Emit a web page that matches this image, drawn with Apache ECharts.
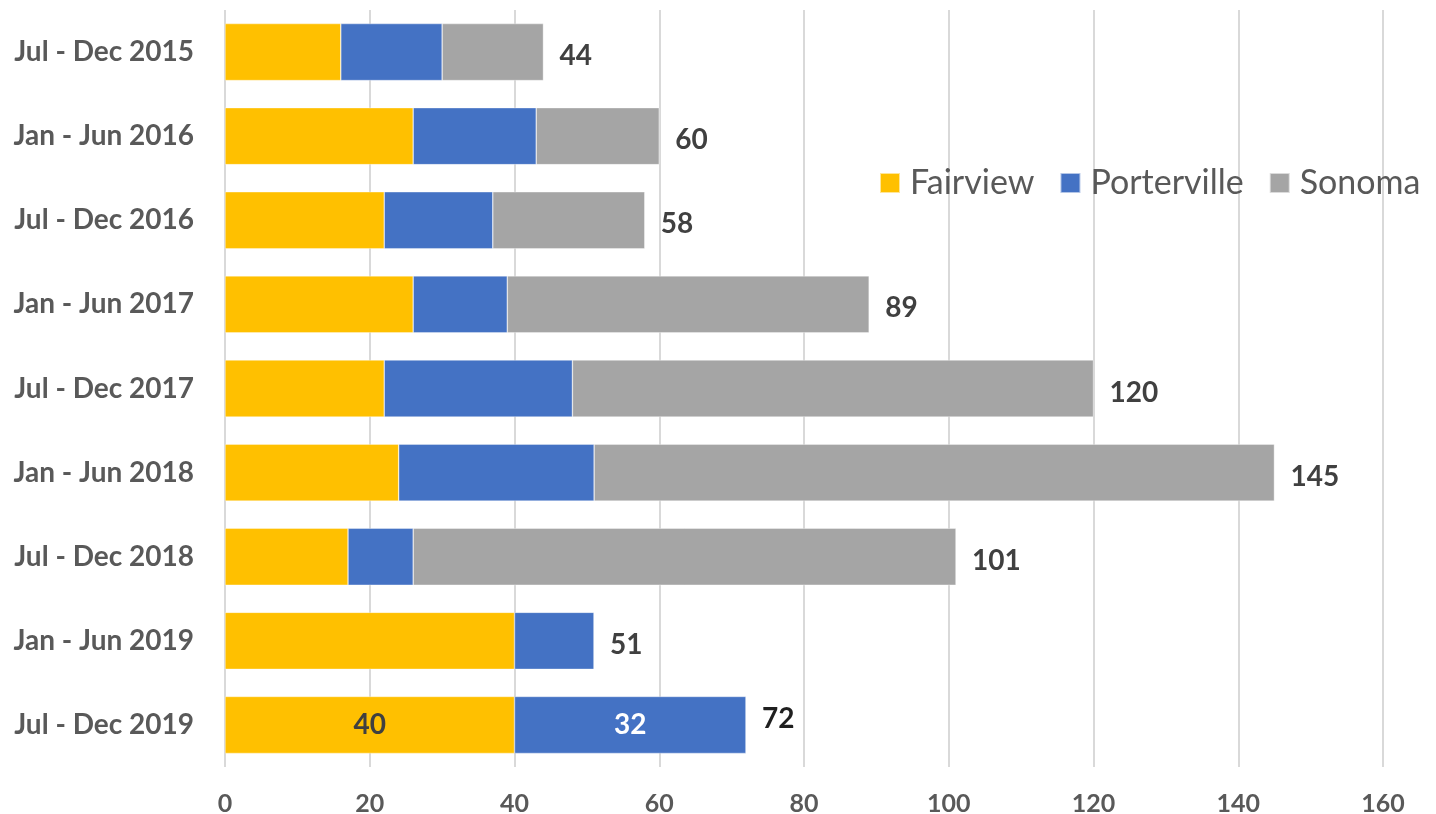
<!DOCTYPE html>
<html>
<head>
<meta charset="utf-8">
<script src="https://cdn.jsdelivr.net/npm/echarts@6/dist/echarts.min.js"></script>
<style>
  html, body { margin: 0; padding: 0; background: #ffffff; }
  #chart { width: 1436px; height: 814px; }
</style>
</head>
<body>
<div id="chart"></div>
<script>
const categories = ['Jul - Dec 2015', 'Jan - Jun 2016', 'Jul - Dec 2016', 'Jan - Jun 2017', 'Jul - Dec 2017', 'Jan - Jun 2018', 'Jul - Dec 2018', 'Jan - Jun 2019', 'Jul - Dec 2019'];
const seriesNames = ['Fairview', 'Porterville', 'Sonoma'];
const fairview = [16, 26, 22, 26, 22, 24, 17, 40, 40];
const porterville = [14, 17, 15, 13, 26, 27, 9, 11, 32];
const sonoma = [14, 17, 21, 50, 72, 94, 75, 0, 0];
const xTicks = { min: 0, max: 160, interval: 20 };

const colors = ['#FFC000', '#4472C4', '#A5A5A5'];
const FONT = 'Lato, "Liberation Sans", Arial, sans-serif';
const totals = categories.map((c, i) => fairview[i] + porterville[i] + sonoma[i]);
const lastIdx = categories.length - 1;

function withLastLabel(arr, color) {
  return arr.map((v, i) => i === lastIdx ? {
    value: v,
    label: { show: true, position: 'inside', color: color, fontFamily: FONT, fontWeight: 'bold', fontSize: 28 }
  } : v);
}

const chart = echarts.init(document.getElementById('chart'), null, { renderer: 'canvas' });
const barStyle = { borderColor: 'rgba(255,255,255,0.6)', borderWidth: 0.6 };

chart.setOption({
  animation: false,
  backgroundColor: '#ffffff',
  grid: { left: 225, right: 53, top: 10, bottom: 47, containLabel: false, outerBoundsMode: 'none' },
  legend: {
    data: seriesNames,
    left: 879,
    top: 166,
    padding: 0,
    itemWidth: 20,
    itemHeight: 20,
    itemGap: 25,
    icon: 'rect',
    textStyle: { fontFamily: FONT, fontSize: 34, color: '#595959', lineHeight: 34, padding: [0, 0, 0, 5] }
  },
  xAxis: {
    type: 'value',
    min: xTicks.min,
    max: xTicks.max,
    interval: xTicks.interval,
    axisLine: { show: false },
    axisTick: { show: false },
    axisLabel: { fontFamily: FONT, fontWeight: 'bold', fontSize: 25, color: '#595959', margin: 24 },
    splitLine: { show: true, lineStyle: { color: '#d9d9d9', width: 2 } }
  },
  yAxis: {
    type: 'category',
    data: categories,
    inverse: true,
    axisLine: { show: false },
    axisTick: { show: false },
    axisLabel: { fontFamily: FONT, fontWeight: 'bold', fontSize: 28, color: '#595959', margin: 31 }
  },
  series: [
    { name: seriesNames[0], type: 'bar', stack: 'total', barWidth: 57, itemStyle: Object.assign({ color: colors[0] }, barStyle), data: withLastLabel(fairview, '#404040') },
    { name: seriesNames[1], type: 'bar', stack: 'total', barWidth: 57, itemStyle: Object.assign({ color: colors[1] }, barStyle), data: withLastLabel(porterville, '#ffffff') },
    { name: seriesNames[2], type: 'bar', stack: 'total', barWidth: 57, itemStyle: Object.assign({ color: colors[2] }, barStyle), data: sonoma },
    {
      name: 'Total', type: 'bar', stack: 'total', barWidth: 57,
      itemStyle: { color: 'transparent' },
      silent: true,
      label: {
        show: true, position: 'right', distance: 16, offset: [0, 4],
        fontFamily: FONT, fontWeight: 'bold', fontSize: 28, color: '#404040',
        formatter: (p) => String(totals[p.dataIndex])
      },
      data: totals.map((t, i) => i === lastIdx ? { value: 0, label: { color: '#1f1f1f', offset: [0, -6] } } : 0)
    }
  ]
});
</script>
</body>
</html>
